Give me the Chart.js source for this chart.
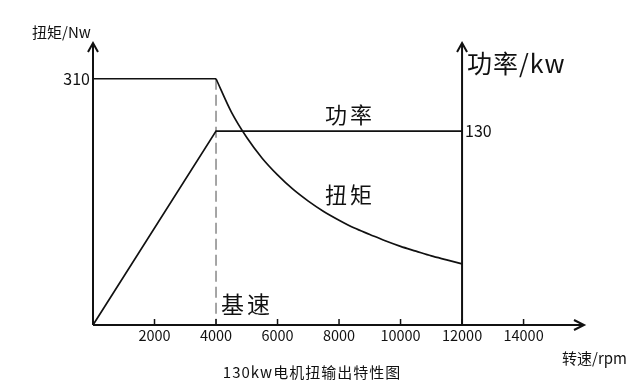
<!DOCTYPE html>
<html>
<head>
<meta charset="utf-8">
<script src="https://cdn.jsdelivr.net/npm/chart.js@4.4.7/dist/chart.umd.min.js"></script>
<style>
    body { margin: 0; background: #fff; }
    #wrap { width: 640px; height: 385px; position: relative; }
</style>
</head>
<body>
<div id="wrap"><canvas id="motor_chart"></canvas></div>
<script>
/*
 * Motor characteristic chart: torque and power versus speed.
 */

// Speed (rpm) where torque is constant, and where it falls off.
var flatRpm    = [0, 4000];
var flatTorque = [310, 310];
var fallRpm    = [4000, 4500, 5000, 5500, 6000, 6500, 7000, 7500, 8000, 8500, 9000, 9500, 10000, 10500, 11000, 11500, 12000];
var fallTorque = [310, 268, 236, 210, 189, 171, 156, 143, 132, 122, 114, 106, 99, 93, 87, 82, 77];

// Power (kw) versus speed.
var powerRpm = [0, 4000, 12000];
var powerKw  = [0, 130, 130];

// Axis ticks and labels.
var xTicks      = [2000, 4000, 6000, 8000, 10000, 12000, 14000];
var torqueTicks = [310];
var powerTicks  = [130];
var baseSpeed   = 4000;
var powerAxisAt = 12000;

var font = '"Noto Sans CJK SC", "Noto Sans", sans-serif';

function toPoints(xs, ys) {
    return xs.map(function(x, i) { return {x: x, y: ys[i]}; });
}

function drawText(ctx, text, x, y, size, align) {
    ctx.font = size + 'px ' + font;
    ctx.textAlign = align || 'left';
    ctx.textBaseline = 'middle';
    ctx.fillStyle = '#111';
    ctx.fillText(text, x, y);
}

function chevron(ctx, x, y, dir) {
    ctx.beginPath();
    if (dir === 'up') {
        ctx.moveTo(x - 5, y + 9);
        ctx.lineTo(x, y);
        ctx.lineTo(x + 5, y + 9);
    } else {
        ctx.moveTo(x - 10, y - 5);
        ctx.lineTo(x, y);
        ctx.lineTo(x - 10, y + 5);
    }
    ctx.stroke();
}

// Axes, arrows, ticks and all labels are drawn here.
var axesPlugin = {
    id: 'axesPlugin',
    beforeDatasetsDraw: function(chart) {
        var ctx = chart.ctx, x = chart.scales.x, a = chart.chartArea;
        var y = chart.scales.y;
        var bx = x.getPixelForValue(baseSpeed);

        // dashed base speed line
        ctx.save();
        ctx.strokeStyle = '#888';
        ctx.lineWidth = 1.5;
        ctx.setLineDash([11, 5]);
        ctx.beginPath();
        ctx.moveTo(bx, y.getPixelForValue(flatTorque[1]));
        ctx.lineTo(bx, a.bottom);
        ctx.stroke();
        ctx.restore();
    },
    afterDatasetsDraw: function(chart) {
        var ctx = chart.ctx, a = chart.chartArea;
        var x = chart.scales.x, y = chart.scales.y, y2 = chart.scales.y2;
        var rx = x.getPixelForValue(powerAxisAt);

        ctx.save();
        ctx.strokeStyle = '#111';
        ctx.lineWidth = 2;
        ctx.lineCap = 'butt';

        // axis lines
        ctx.beginPath();
        ctx.moveTo(a.left, a.bottom);
        ctx.lineTo(a.left, a.top);
        ctx.moveTo(a.left, a.bottom);
        ctx.lineTo(a.right + 2, a.bottom);
        ctx.moveTo(rx, a.bottom);
        ctx.lineTo(rx, a.top);
        ctx.stroke();

        chevron(ctx, a.left, a.top, 'up');
        chevron(ctx, rx, a.top, 'up');
        chevron(ctx, a.right + 2, a.bottom, 'right');

        // x ticks
        ctx.lineWidth = 1.5;
        xTicks.forEach(function(v) {
            var px = x.getPixelForValue(v);
            ctx.beginPath();
            ctx.moveTo(px, a.bottom);
            ctx.lineTo(px, a.bottom - 6);
            ctx.stroke();
            drawText(ctx, String(v), px, a.bottom + 10, 14.5, 'center');
        });

        torqueTicks.forEach(function(v) {
            drawText(ctx, String(v), a.left - 3, y.getPixelForValue(v), 16, 'right');
        });
        powerTicks.forEach(function(v) {
            drawText(ctx, String(v), rx + 3, y2.getPixelForValue(v), 16, 'left');
        });

        // axis titles
        drawText(ctx, '扭矩/Nw', 32, 32, 15);
        ctx.letterSpacing = '1px';
        drawText(ctx, '功率/kw', 467, 63, 25);
        ctx.letterSpacing = '0px';
        drawText(ctx, '转速/rpm', 562, 358, 15);

        // curve names
        ctx.letterSpacing = '3px';
        drawText(ctx, '功率', 325, 115, 22);
        drawText(ctx, '扭矩', 325, 195, 22);
        drawText(ctx, '基速', 221, 304, 23);
        ctx.letterSpacing = '1px';
        drawText(ctx, '130kw电机扭输出特性图', 312, 372, 15, 'center');
        ctx.restore();
    }
};

var lineStyle = {
    borderColor: '#111',
    borderWidth: 1.7,
    pointRadius: 0,
    fill: false,
    clip: false
};

var data = {
    datasets: [
        Object.assign({ label: 'torque', data: toPoints(flatRpm, flatTorque), yAxisID: 'y' }, lineStyle),
        Object.assign({ label: 'torque', data: toPoints(fallRpm, fallTorque), yAxisID: 'y',
                        cubicInterpolationMode: 'monotone' }, lineStyle),
        Object.assign({ label: 'power', data: toPoints(powerRpm, powerKw), yAxisID: 'y2' }, lineStyle)
    ]
};

var options = {
    responsive: true,
    maintainAspectRatio: false,
    animation: false,
    layout: {
        padding: { left: 93, right: 58, top: 43, bottom: 60 }
    },
    scales: {
        x:  { type: 'linear', min: 0, max: 15900, display: false },
        y:  { min: 0, max: 355, display: false },
        y2: { min: 0, max: 189, display: false }
    },
    plugins: {
        legend: { display: false },
        tooltip: { enabled: false }
    }
};

new Chart(document.getElementById('motor_chart'), { type: 'line', data: data, options: options, plugins: [axesPlugin] });
</script>
</body>
</html>
